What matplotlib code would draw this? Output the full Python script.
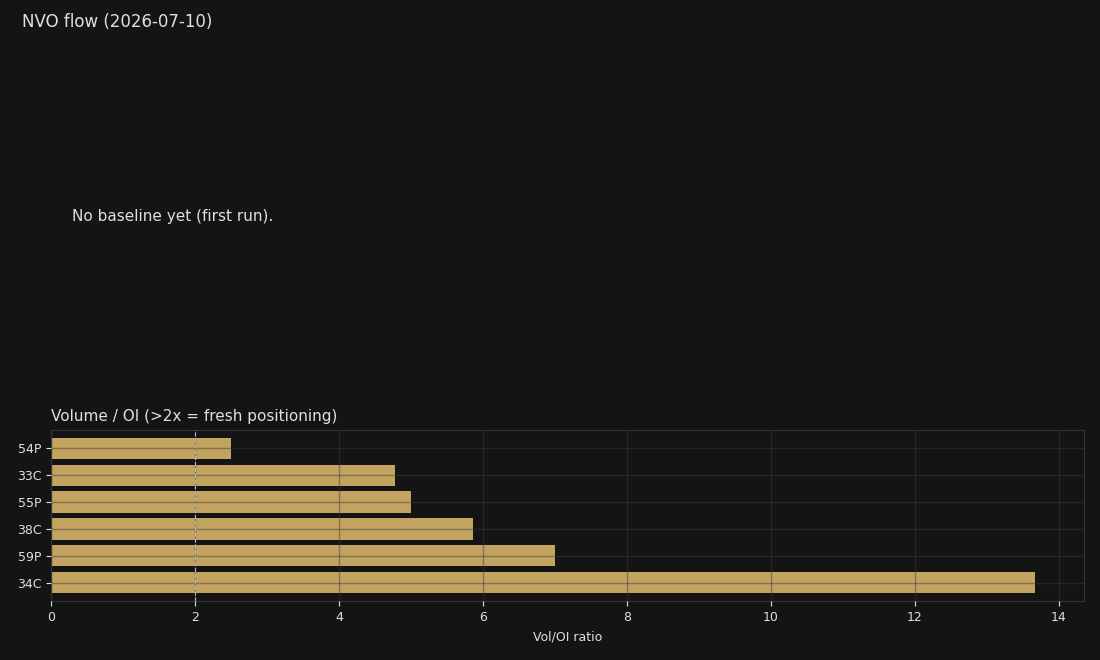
import matplotlib
matplotlib.use("Agg")
import matplotlib.pyplot as plt

# data
strikes = ["34C", "59P", "38C", "55P", "33C", "54P"]
vol_oi = [13.67, 7.0, 5.86, 5.0, 4.78, 2.5]
threshold = 2
title = "NVO flow (2026-07-10)"
note = "No baseline yet (first run)."

bg = "#141414"
fg = "#e0e0e0"
gold = "#c2a35f"

fig = plt.figure(figsize=(11, 6.6), dpi=100, facecolor=bg)
fig.text(0.02, 0.967, title, ha="left", va="center", color=fg, fontsize=12)

top = fig.add_axes([0.0464, 1 - 394 / 660, 0.9391, 354 / 660])
top.set_facecolor(bg)
top.axis("off")
top.text(0.02, 0.5, note, transform=top.transAxes, ha="left", va="center",
         color=fg, fontsize=11)

ax = fig.add_axes([0.0464, 1 - 601 / 660, 0.9391, 171 / 660])
ax.set_facecolor(bg)
ax.barh(strikes, vol_oi, height=0.8, color=gold, zorder=1)
ax.axvline(threshold, color="#bbbbbb", linestyle="--", linewidth=0.8, zorder=3)
ax.grid(True, color="#3a3a3a", alpha=0.45, linewidth=1.0, zorder=2)
ax.set_axisbelow(False)
ax.set_title("Volume / OI (>2x = fresh positioning)", loc="left", color=fg,
             fontsize=11, pad=6.5)
ax.set_xlabel("Vol/OI ratio", color=fg, fontsize=9, labelpad=5)
ax.tick_params(colors=fg, labelsize=9)
for s in ax.spines.values():
    s.set_color("#333333")

fig.savefig("out.png", dpi=100, facecolor=bg)
